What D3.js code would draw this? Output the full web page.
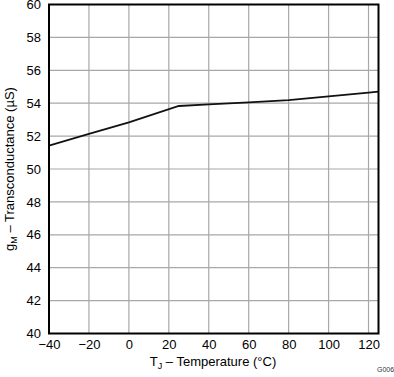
<!DOCTYPE html>
<html><head><meta charset="utf-8">
<script src="https://cdn.jsdelivr.net/npm/d3@7"></script>
<style>body{margin:0;background:#fff}svg{display:block}text{font-family:"Liberation Sans",Arial,sans-serif}</style>
</head><body><svg id="c" width="394" height="377"></svg>
<script>
const temps = [-40, -20, 0, 25, 40, 60, 80, 100, 120, 125];
const gm = [51.42, 52.13, 52.84, 53.83, 53.93, 54.05, 54.19, 54.42, 54.64, 54.70];
const xTicks = [-40, -20, 0, 20, 40, 60, 80, 100, 120];
const yTicks = [40, 42, 44, 46, 48, 50, 52, 54, 56, 58, 60];

const svg = d3.select("#c");
const L = 49, R = 378.5, T = 4.5, B = 333.5;
const x = d3.scaleLinear().domain([-40, 125]).range([L, R]);
const y = d3.scaleLinear().domain([40, 60]).range([B, T]);

const g = svg.append("g");
g.selectAll(".vg").data(xTicks.slice(1)).enter().append("line")
  .attr("x1", d => x(d)).attr("x2", d => x(d)).attr("y1", T).attr("y2", B)
  .attr("stroke", "#a8a8a8").attr("stroke-width", 1.2);
g.selectAll(".hg").data(yTicks.slice(1, -1)).enter().append("line")
  .attr("y1", d => y(d)).attr("y2", d => y(d)).attr("x1", L).attr("x2", R)
  .attr("stroke", "#a8a8a8").attr("stroke-width", 1.2);

const xa = svg.append("g").attr("transform", `translate(0,${B})`)
  .call(d3.axisBottom(x).tickValues(xTicks).tickSize(0).tickPadding(6).tickFormat(d => d < 0 ? "\u2212" + Math.abs(d) : d));
xa.select(".domain").remove();
xa.selectAll("text").attr("font-size", 13).attr("fill", "#000").attr("font-family", "Liberation Sans, Arial, sans-serif");

const ya = svg.append("g").attr("transform", `translate(${L},0)`)
  .call(d3.axisLeft(y).tickValues(yTicks).tickSize(0).tickPadding(8));
ya.select(".domain").remove();
ya.selectAll("text").attr("font-size", 13).attr("fill", "#000").attr("font-family", "Liberation Sans, Arial, sans-serif");

svg.append("path").datum(temps.map((t, i) => [t, gm[i]]))
  .attr("d", d3.line().x(d => x(d[0])).y(d => y(d[1])))
  .attr("fill", "none").attr("stroke", "#111").attr("stroke-width", 1.8);

svg.append("rect").attr("x", L).attr("y", T).attr("width", R - L).attr("height", B - T)
  .attr("fill", "none").attr("stroke", "#000").attr("stroke-width", 2);

const xl = svg.append("text").attr("x", 213).attr("y", 366).attr("text-anchor", "middle").attr("font-size", 13);
xl.append("tspan").text("T");
xl.append("tspan").attr("font-size", 9).attr("dy", 3).text("J");
xl.append("tspan").attr("dy", -3).text(" \u2013 Temperature (\u00B0C)");

const yl = svg.append("text").attr("transform", `translate(14,${(T + B) / 2}) rotate(-90)`)
  .attr("text-anchor", "middle").attr("font-size", 13);
yl.append("tspan").text("g");
yl.append("tspan").attr("font-size", 9).attr("dy", 3).text("M");
yl.append("tspan").attr("dy", -3).text(" \u2013 Transconductance (\u00B5S)");

svg.append("text").attr("x", 377).attr("y", 372).attr("font-size", 7).attr("fill", "#333").text("G006");
</script></body></html>
